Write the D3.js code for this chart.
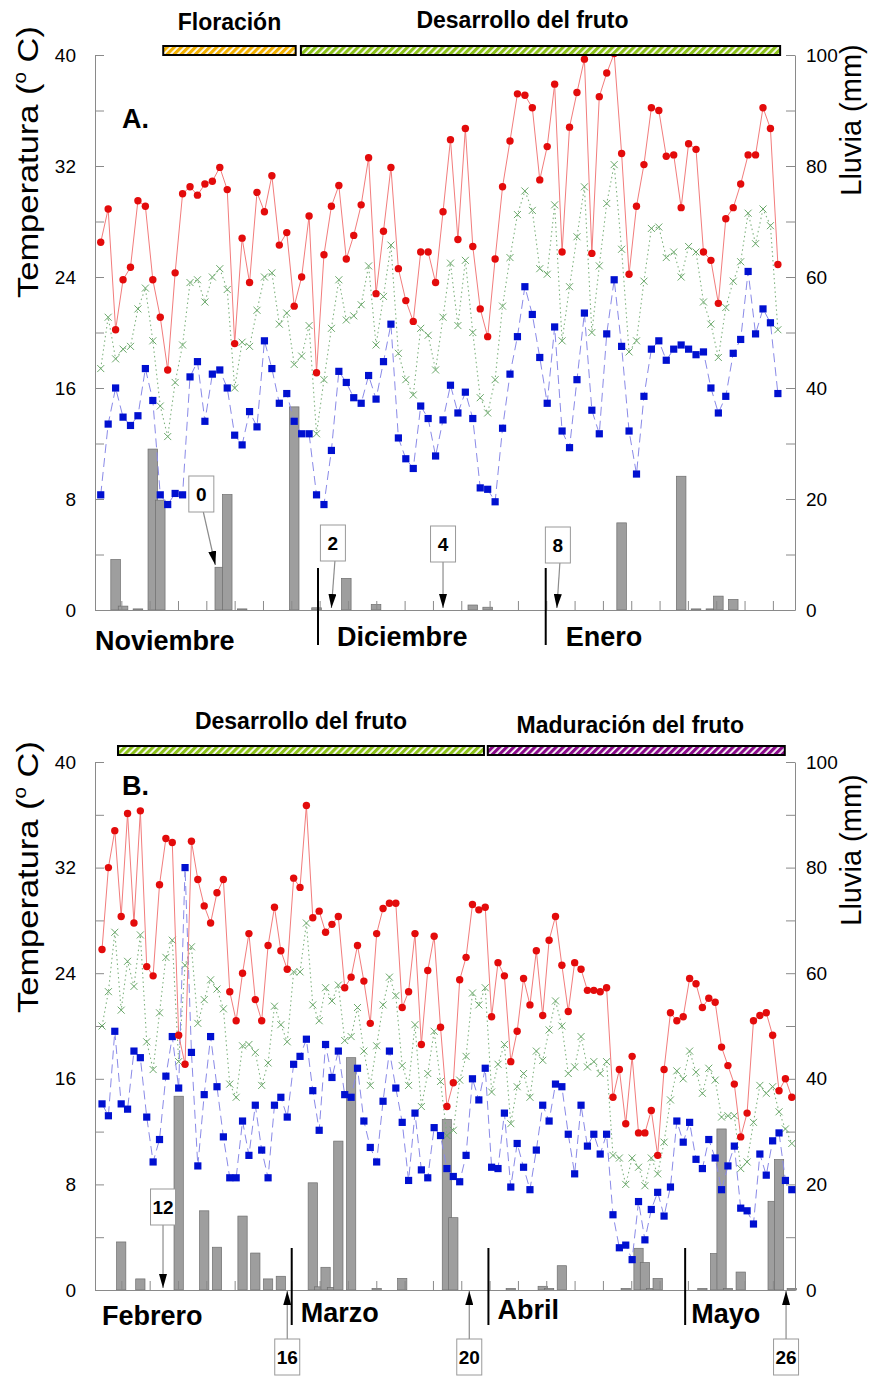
<!DOCTYPE html>
<html>
<head>
<meta charset="utf-8">
<script src="https://cdn.jsdelivr.net/npm/d3@7"></script>
<style>
  body { margin: 0; background: #fff; }
  text { font-family: "Liberation Sans", Arial, sans-serif; }
</style>
</head>
<body>
<svg id="chart" width="871" height="1376"></svg>
<script>
// ---- Panel A: noviembre - enero (one value per day) ----
const tmaxA = [26.5, 28.9, 20.2, 23.8, 24.7, 29.5, 29.1, 23.8, 21.1, 17.3, 24.3, 30.0, 30.5, 29.9, 30.7, 30.9, 31.9, 30.3, 19.2, 26.8, 23.6, 30.1, 28.7, 31.3, 26.3, 27.2, 21.9, 24.0, 28.4, 17.1,
  25.6, 29.1, 30.6, 25.3, 27.0, 29.2, 32.6, 22.8, 27.3, 31.9, 24.6, 22.3, 20.8, 25.8, 25.8, 23.6, 28.7, 33.9, 26.7, 34.7, 26.2, 21.7, 19.7, 25.3, 30.5, 33.8, 37.2, 37.1, 36.2, 31.0, 33.4,
  37.9, 25.8, 34.8, 37.3, 39.7, 25.7, 37.0, 38.7, 40.1, 32.9, 24.2, 29.1, 32.1, 36.2, 36.0, 32.7, 32.8, 29.0, 33.6, 33.2, 25.8, 25.2, 22.1, 28.2, 29.0, 30.7, 32.8, 32.8, 36.2, 34.7, 24.9];
const tmeanA = [17.4, 21.1, 18.1, 18.8, 19.0, 21.7, 23.2, 19.4, 14.7, 12.5, 16.4, 19.1, 23.6, 23.8, 22.2, 24.0, 24.6, 23.1, 16.0, 19.3, 19.0, 21.6, 24.0, 24.3, 20.6, 21.4, 17.7, 18.3, 20.5, 12.7,
  16.6, 20.3, 23.8, 20.9, 21.2, 22.0, 24.8, 19.1, 22.6, 26.3, 18.5, 16.6, 15.5, 20.3, 19.8, 17.3, 21.1, 25.0, 20.5, 25.2, 20.0, 15.3, 14.2, 16.6, 21.9, 25.4, 28.5, 30.2, 28.8, 24.6, 24.2,
  29.2, 19.4, 23.3, 26.9, 30.5, 20.0, 24.8, 29.3, 32.1, 26.0, 18.6, 19.4, 23.7, 27.5, 27.6, 25.4, 25.8, 24.0, 26.2, 25.8, 22.2, 20.6, 18.2, 21.8, 23.7, 25.1, 28.6, 26.4, 28.9, 27.7, 20.2];
const tminA = [8.3, 13.4, 16.0, 13.9, 13.3, 14.0, 17.4, 15.1, 8.3, 7.6, 8.4, 8.3, 16.8, 17.9, 13.6, 17.0, 17.3, 16.0, 12.6, 11.9, 14.3, 13.2, 19.4, 17.4, 14.9, 15.6, 13.6, 12.7, 12.7, 8.3,
  7.6, 11.5, 17.2, 16.4, 15.3, 14.9, 16.9, 15.2, 17.9, 20.6, 12.4, 10.9, 10.2, 14.7, 13.8, 11.1, 13.7, 16.2, 14.2, 15.7, 13.8, 8.8, 8.7, 7.8, 13.1, 17.0, 19.7, 23.3, 21.3, 18.2, 14.9,
  20.4, 12.9, 11.7, 16.6, 21.4, 14.4, 12.7, 19.9, 23.8, 19.0, 12.9, 9.8, 15.4, 18.8, 19.4, 18.0, 18.8, 19.1, 18.8, 18.4, 18.6, 16.0, 14.2, 15.4, 18.5, 19.5, 24.4, 19.9, 21.7, 20.7, 15.6];
const rainDaysA = [2, 3, 5, 7, 8, 16, 17, 19, 26, 29, 33, 37, 50, 52, 70, 78, 80, 82, 83, 85];
const rainA = [9.1, 0.7, 0.2, 29.0, 19.8, 7.7, 20.8, 0.2, 36.6, 0.4, 5.7, 1.0, 0.9, 0.5, 15.7, 24.1, 0.2, 0.2, 2.5, 1.9];
const monthsA = ["Noviembre", "Diciembre", "Enero"];
const monthSepA = [29.2, 59.8];
const stagesA = ["0", "2", "4", "8"];
const stageDaysA = [15.4, 31.0, 46.0, 61.3];
const phasesA = ["Floración", "Desarrollo del fruto"];
const phaseSpanA = [[8.4, 26.2], [26.9, 91.3]];

// ---- Panel B: febrero - mayo ----
const tmaxB = [25.8, 32.0, 34.8, 28.3, 36.1, 27.8, 36.3, 24.5, 23.8, 30.7, 34.2, 33.9, 19.3, 17.1, 34.0, 31.1, 29.1, 27.8, 30.1, 31.1, 22.6, 20.4, 24.0, 27.0, 22.0, 20.4, 26.1, 29.0, 25.7, 24.3,
  31.2, 30.5, 36.7, 28.2, 28.7, 27.1, 27.7, 28.3, 22.9, 23.7, 26.1, 23.4, 20.2, 27.0, 28.9, 29.3, 29.3, 21.4, 22.6, 27.0, 18.6, 24.2, 26.8, 19.9, 13.9, 15.7, 23.5, 25.2, 29.2, 28.8, 29.0,
  20.7, 24.8, 23.8, 17.3, 19.6, 23.6, 21.6, 25.7, 20.8, 26.5, 28.3, 24.6, 21.1, 24.8, 24.3, 22.7, 22.7, 22.6, 22.9, 14.6, 16.7, 12.6, 17.7, 11.9, 11.9, 13.6, 10.2, 16.7, 21.0, 20.4,
  20.7, 23.6, 23.2, 21.4, 22.1, 21.8, 18.4, 17.0, 15.6, 11.6, 13.4, 20.4, 20.8, 21.0, 19.3, 15.1, 16.0, 14.6];
const tmeanB = [20.0, 22.6, 27.1, 21.2, 24.9, 23.0, 26.9, 18.8, 16.7, 21.0, 25.2, 26.5, 17.3, 24.6, 26.0, 20.2, 22.0, 23.5, 22.8, 21.3, 15.6, 14.6, 18.5, 18.6, 18.0, 15.5, 17.2, 21.5, 20.1, 18.8,
  24.1, 24.1, 27.8, 21.6, 20.4, 22.9, 21.9, 23.1, 18.9, 19.2, 21.4, 18.1, 15.5, 18.5, 21.6, 23.7, 22.3, 17.0, 15.5, 20.1, 13.9, 16.4, 19.6, 15.8, 11.7, 12.1, 15.9, 17.7, 22.5, 21.6, 22.9,
  15.0, 17.1, 18.6, 12.6, 15.4, 16.4, 14.6, 18.1, 17.4, 19.7, 21.9, 20.0, 16.4, 16.9, 19.2, 16.9, 17.3, 16.4, 17.3, 10.2, 10.0, 8.0, 10.0, 9.3, 7.9, 10.0, 8.8, 11.2, 14.4, 16.6,
  16.0, 18.1, 16.5, 14.9, 16.8, 15.9, 13.1, 13.2, 13.2, 9.2, 9.7, 12.7, 15.5, 14.9, 15.4, 13.5, 12.2, 11.1];
const tminB = [14.1, 13.2, 19.6, 14.1, 13.7, 18.1, 17.6, 13.1, 9.7, 11.4, 16.2, 19.2, 15.3, 32.0, 18.0, 9.4, 14.8, 19.2, 15.4, 11.6, 8.5, 8.5, 12.8, 10.2, 14.0, 10.6, 8.5, 14.0, 14.6, 13.1,
  17.1, 17.7, 19.0, 15.1, 12.1, 18.6, 16.1, 18.1, 14.8, 14.6, 16.8, 12.8, 10.8, 9.7, 14.3, 18.1, 15.3, 12.7, 8.3, 13.4, 9.1, 8.5, 12.3, 11.7, 9.2, 8.6, 8.2, 10.2, 16.0, 14.4, 16.8,
  9.3, 9.2, 13.4, 7.8, 11.1, 9.3, 7.6, 10.6, 14.0, 12.8, 15.6, 15.4, 11.8, 8.8, 14.0, 10.9, 11.8, 10.3, 11.8, 5.7, 3.2, 3.4, 2.3, 6.7, 3.8, 6.1, 7.4, 5.6, 7.8, 12.8,
  11.2, 12.7, 9.9, 9.2, 11.4, 10.0, 7.6, 9.4, 10.9, 6.2, 6.0, 5.0, 10.3, 8.7, 11.3, 11.9, 8.3, 7.6];
const rainDaysB = [3, 6, 12, 16, 18, 22, 24, 26, 28, 33, 34, 35, 36, 37, 39, 43, 47, 54, 55, 64, 69, 70, 72, 82, 84, 85, 86, 87, 94, 96, 97, 98, 100, 105, 106, 108];
const rainB = [9.1, 2.1, 36.7, 15.0, 8.1, 14.0, 7.0, 2.1, 2.6, 20.3, 0.6, 4.3, 0.5, 28.2, 44.0, 0.3, 2.2, 32.3, 13.7, 0.3, 0.7, 0.3, 4.6, 0.3, 7.9, 5.2, 0.3, 2.2, 0.3, 6.9, 30.5, 0.3, 3.4, 16.8, 24.7, 0.3];
const monthsB = ["Febrero", "Marzo", "Abril", "Mayo"];
const monthSepB = [29.7, 60.5, 91.3];
const stagesB = ["12", "16", "20", "26"];
const stageDaysB = [9.55, 29.0, 57.5, 107.1];
const phasesB = ["Desarrollo del fruto", "Maduración del fruto"];
const phaseSpanB = [[2.5, 59.8], [60.4, 106.9]];

const tempTicks = d3.range(0, 41, 4);
const rainTicks = d3.range(0, 101, 10);

const svg = d3.select('#chart');
const defs = svg.append('defs');

function hatch(id, color) {
  const p = defs.append('pattern')
      .attr('id', id)
      .attr('patternUnits', 'userSpaceOnUse')
      .attr('width', 5).attr('height', 5)
      .attr('patternTransform', 'rotate(45)');
  p.append('rect').attr('width', 5).attr('height', 5).attr('fill', '#fff');
  p.append('rect').attr('width', 3.2).attr('height', 5).attr('fill', color);
}
hatch('hOrange', '#f2b000');
hatch('hGreen', '#8cc21a');
hatch('hPurple', '#8a0a8a');

defs.append('marker')
    .attr('id', 'arrowHead')
    .attr('markerUnits', 'userSpaceOnUse')
    .attr('viewBox', '0 -4 14 8')
    .attr('refX', 14).attr('refY', 0)
    .attr('markerWidth', 14).attr('markerHeight', 8)
    .attr('orient', 'auto')
    .append('path').attr('d', 'M0,-4L14,0L0,4Z').attr('fill', '#000');

function drawPanel(p) {
  const g = svg.append('g');
  const x = d3.scaleLinear().domain(p.xDomain).range([95, 795]);
  const y = d3.scaleLinear().domain([0, 40]).range([p.bottom, p.top]);
  const yR = d3.scaleLinear().domain([0, 100]).range([p.bottom, p.top]);
  const minor = d3.scaleLinear().domain([0, 24.71]).range([93, 793]);

  // rain bars
  const rain = p.rainDays.map((d, i) => ({day: d, mm: p.rain[i]}));
  g.selectAll('.rain')
      .data(rain)
      .enter()
      .append('rect')
      .attr('x', d => x(d.day) - p.barW / 2)
      .attr('width', p.barW)
      .attr('y', d => yR(d.mm))
      .attr('height', d => yR(0) - yR(d.mm))
      .attr('fill', '#9e9e9e')
      .attr('stroke', '#6e6e6e')
      .attr('stroke-width', 0.7);

  // axes
  const axisColor = '#8a8a8a';
  const left = g.append('g')
      .attr('transform', 'translate(95,0)')
      .call(d3.axisLeft(y).tickValues(tempTicks).tickSizeInner(-9).tickSizeOuter(0).tickPadding(19)
        .tickFormat(d => d % 8 === 0 ? d : ''));
  const right = g.append('g')
      .attr('transform', 'translate(795,0)')
      .call(d3.axisRight(yR).tickValues(rainTicks).tickSizeInner(-9).tickSizeOuter(0).tickPadding(11)
        .tickFormat(d => d % 20 === 0 ? d : ''));
  g.append('g')
      .attr('transform', 'translate(0,' + p.bottom + ')')
      .call(d3.axisBottom(x).tickValues([]).tickSizeOuter(0));
  g.append('g')
      .attr('transform', 'translate(0,' + p.bottom + ')')
      .call(d3.axisBottom(minor).tickValues(d3.range(1, 25)).tickSize(-9).tickFormat(''))
      .call(a => a.select('.domain').remove());
  g.selectAll('.domain, .tick line').attr('stroke', axisColor);
  [left, right].forEach(a => a.selectAll('text')
      .attr('font-size', 19).attr('fill', '#000')
      .style('font-family', '"Liberation Sans", Arial, sans-serif'));

  // mean (green x, dotted)
  const line = d3.line().x((d, i) => x(i)).y(d => y(d));
  g.append('path').datum(p.tmean).attr('d', line)
      .attr('fill', 'none').attr('stroke', '#7fb27f').attr('stroke-width', 1.1)
      .attr('stroke-dasharray', '1.5,3');
  g.selectAll('.mean').data(p.tmean).enter().append('path')
      .attr('transform', (d, i) => 'translate(' + x(i) + ',' + y(d) + ')')
      .attr('d', 'M-3.5,-3.5L3.5,3.5M-3.5,3.5L3.5,-3.5')
      .attr('stroke', '#6aa86a').attr('stroke-width', 1).attr('fill', 'none');

  // min (blue squares, dashed)
  g.append('path').datum(p.tmin).attr('d', line)
      .attr('fill', 'none').attr('stroke', '#8a8ae8').attr('stroke-width', 1)
      .attr('stroke-dasharray', '9,5');
  g.selectAll('.min').data(p.tmin).enter().append('rect')
      .attr('x', (d, i) => x(i) - 3.6).attr('y', d => y(d) - 3.6)
      .attr('width', 7.2).attr('height', 7.2)
      .attr('fill', '#0010d0');

  // max (red circles, solid)
  g.append('path').datum(p.tmax).attr('d', line)
      .attr('fill', 'none').attr('stroke', '#f27c7c').attr('stroke-width', 1);
  g.selectAll('.max').data(p.tmax).enter().append('circle')
      .attr('cx', (d, i) => x(i)).attr('cy', d => y(d)).attr('r', 3.7)
      .attr('fill', '#e30b0b');

  // month separators and names
  g.selectAll('.sep').data(p.monthSep).enter().append('line')
      .attr('x1', d => x(d)).attr('x2', d => x(d))
      .attr('y1', p.bottom - 42).attr('y2', p.bottom + 35)
      .attr('stroke', '#000').attr('stroke-width', 2);
  const monthX = [x.domain()[0]].concat(p.monthSep);
  g.selectAll('.month').data(p.months).enter().append('text')
      .attr('x', (d, i) => x(monthX[i]) + p.monthDx[i])
      .attr('y', (d, i) => p.bottom + p.monthDy[i])
      .attr('font-size', 27).attr('font-weight', 'bold')
      .text(d => d);

  // stage annotations
  p.stages.forEach((s, i) => {
    const ax = x(p.stageDays[i]);
    const bw = 25, bh = 36;
    const bx = ax + p.boxDx[i] - bw / 2;
    const by = p.boxY[i];
    const below = by > p.bottom;
    const start = below ? [ax, by] : [ax + p.boxDx[i] + (p.boxDx[i] ? 2 : 0), by + bh];
    const end = below ? [ax, p.bottom + 1] : [ax, p.tipY[i]];
    g.append('line')
        .attr('x1', start[0]).attr('y1', start[1])
        .attr('x2', end[0]).attr('y2', end[1])
        .attr('stroke', '#8c8c8c').attr('stroke-width', 1.2)
        .attr('marker-end', 'url(#arrowHead)');
    g.append('rect')
        .attr('x', bx).attr('y', by).attr('width', bw).attr('height', bh)
        .attr('fill', '#fff').attr('stroke', '#9a9a9a').attr('stroke-width', 1);
    g.append('text')
        .attr('x', bx + bw / 2).attr('y', by + bh / 2 + 7)
        .attr('text-anchor', 'middle').attr('font-size', 19).attr('font-weight', 'bold')
        .text(s);
  });

  // phase bars
  const fills = p.phaseFill;
  p.phases.forEach((name, i) => {
    const [a, b] = p.phaseSpan[i];
    g.append('rect')
        .attr('x', x(a)).attr('y', p.phaseY)
        .attr('width', x(b) - x(a)).attr('height', 9)
        .attr('fill', 'url(#' + fills[i] + ')')
        .attr('stroke', '#000').attr('stroke-width', 2);
    g.append('text')
        .attr('x', (x(a) + x(b)) / 2 + p.phaseDx[i])
        .attr('y', p.phaseY - p.phaseGap[i])
        .attr('text-anchor', 'middle').attr('font-size', 23).attr('font-weight', 'bold')
        .text(name);
  });

  // panel letter
  g.append('text')
      .attr('x', 122).attr('y', p.top + p.letterDy)
      .attr('font-size', 27).attr('font-weight', 'bold')
      .text(p.letter);

  // axis titles
  const tt = g.append('text')
      .attr('transform', 'translate(38,' + p.tempTitleY + ') rotate(-90)')
      .attr('text-anchor', 'middle').attr('font-size', 30)
      .attr('textLength', 272).attr('lengthAdjust', 'spacingAndGlyphs');
  tt.append('tspan').text('Temperatura (');
  tt.append('tspan').attr('font-size', 18).attr('dy', -12).text('o');
  tt.append('tspan').attr('dy', 12).text(' C)');
  g.append('text')
      .attr('transform', 'translate(861,' + p.rainTitleY + ') rotate(-90)')
      .attr('text-anchor', 'middle').attr('font-size', 29)
      .text('Lluvia (mm)');
}

drawPanel({
  top: 55, bottom: 610, xDomain: [-0.77, 93.3], barW: 9.6,
  tmax: tmaxA, tmean: tmeanA, tmin: tminA,
  rainDays: rainDaysA, rain: rainA,
  months: monthsA, monthSep: monthSepA, monthDx: [0, 19, 20], monthDy: [40, 36, 36],
  stages: stagesA, stageDays: stageDaysA,
  boxDx: [-14, 1.5, 0, 1], boxY: [476, 525, 526, 527],
  tipY: [565, 608, 608, 608],
  phases: phasesA, phaseSpan: phaseSpanA, phaseFill: ['hOrange', 'hGreen'],
  phaseY: 46, phaseDx: [0, -18], phaseGap: [16, 18],
  letter: 'A.', letterDy: 73, tempTitleY: 162, rainTitleY: 120
});

drawPanel({
  top: 762, bottom: 1290, xDomain: [-1.1, 108.5], barW: 9.3,
  tmax: tmaxB, tmean: tmeanB, tmin: tminB,
  rainDays: rainDaysB, rain: rainB,
  months: monthsB, monthSep: monthSepB, monthDx: [7, 9, 9, 6], monthDy: [35, 32, 29, 33],
  stages: stagesB, stageDays: stageDaysB,
  boxDx: [0, 0, 0, 0], boxY: [1189, 1339, 1339, 1339],
  tipY: [1288, 0, 0, 0],
  phases: phasesB, phaseSpan: phaseSpanB, phaseFill: ['hGreen', 'hPurple'],
  phaseY: 746, phaseDx: [0, -6], phaseGap: [17, 13],
  letter: 'B.', letterDy: 33, tempTitleY: 877, rainTitleY: 850
});
</script>
</body>
</html>
